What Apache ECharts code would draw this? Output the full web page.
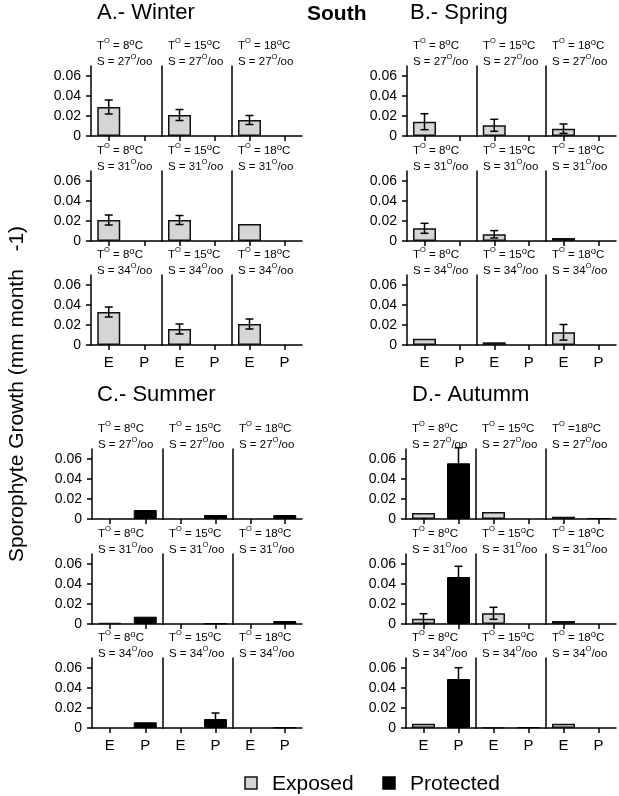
<!DOCTYPE html>
<html><head><meta charset="utf-8">
<script src="https://cdn.jsdelivr.net/npm/echarts@6/dist/echarts.min.js"></script>
<style>html,body{margin:0;padding:0;background:#fff}#c{width:619px;height:796px}</style>
</head><body><div id="c"></div>
<script>
// ---------- data ----------
const categories = ['E', 'P'];
const temperatures = ['8', '15', '18'];
const salinities = ['27', '31', '34'];
const panelTitles = ['A.- Winter', 'B.- Spring', 'C.- Summer', 'D.- Autumm'];
const yTicks = [0, 0.02, 0.04, 0.06];
const legendNames = ['Exposed', 'Protected'];

// rows = salinity (27, 31, 34), columns = temperature (8, 15, 18)
const winterExposed      = [[0.029, 0.021, 0.016], [0.021, 0.021, 0.017], [0.033, 0.016, 0.021]];
const winterExposedErr   = [[0.007, 0.0055, 0.0045], [0.005, 0.0045, 0], [0.005, 0.005, 0.005]];
const winterProtected    = [[0, 0, 0], [0, 0, 0], [0, 0, 0]];
const winterProtectedErr = [[0, 0, 0], [0, 0, 0], [0, 0, 0]];

const springExposed      = [[0.0143, 0.0107, 0.0073], [0.0127, 0.0067, 0.003], [0.0063, 0.0027, 0.0127]];
const springExposedErr   = [[0.008, 0.006, 0.0047], [0.005, 0.0037, 0], [0, 0, 0.0078]];
const springProtected    = [[0, 0, 0], [0, 0, 0], [0, 0, 0]];
const springProtectedErr = [[0, 0, 0], [0, 0, 0], [0, 0, 0]];

const summerExposed      = [[0, 0, 0], [0.001, 0, 0], [0, 0, 0]];
const summerExposedErr   = [[0, 0, 0], [0, 0, 0], [0, 0, 0]];
const summerProtected    = [[0.009, 0.004, 0.004], [0.0073, 0.0005, 0.003], [0.0057, 0.009, 0.0005]];
const summerProtectedErr = [[0, 0, 0], [0, 0, 0], [0, 0.006, 0]];

const autumnExposed      = [[0.006, 0.007, 0.0023], [0.0053, 0.0107, 0.003], [0.0043, 0.0007, 0.0043]];
const autumnExposedErr   = [[0, 0, 0], [0.005, 0.006, 0], [0, 0, 0]];
const autumnProtected    = [[0.0557, 0, 0.001], [0.047, 0, 0], [0.049, 0.0007, 0]];
const autumnProtectedErr = [[0.0155, 0, 0], [0.0107, 0, 0], [0.0113, 0, 0]];

const panelData = [
  [winterExposed, winterExposedErr, winterProtected, winterProtectedErr],
  [springExposed, springExposedErr, springProtected, springProtectedErr],
  [summerExposed, summerExposedErr, summerProtected, summerProtectedErr],
  [autumnExposed, autumnExposedErr, autumnProtected, autumnProtectedErr]
];

// ---------- layout ----------
const FONT = 'Liberation Sans, Arial, Helvetica, sans-serif';
const H = 70;
const layout = [
  { tx: 97,  ty: 13,  cols: [91, 162, 232, 302],  zeros: [136, 241, 345] },
  { tx: 410, ty: 13,  cols: [407, 477, 546, 616], zeros: [136, 241, 345] },
  { tx: 97,  ty: 395, cols: [92, 163, 233, 302],  zeros: [519, 624, 728] },
  { tx: 412, ty: 395, cols: [406, 476, 546, 616], zeros: [519, 624, 728] }
];
const EXP_COLOR = '#d5d5d5';
const expStyle = { color: EXP_COLOR, borderColor: '#111', borderWidth: 1.5 };
const proStyle = { color: '#000', borderColor: '#000', borderWidth: 1 };

const grids = [], xAxes = [], yAxes = [], series = [], graphics = [];

const richStyles = {
  n: { fontSize: 11.5, fontFamily: FONT, lineHeight: 18, fill: '#000', color: '#000' },
  s: { fontSize: 7.5, fontFamily: FONT, lineHeight: 8, verticalAlign: 'top', fill: '#000', color: '#000' },
  d: { fontSize: 9.5, fontFamily: FONT, lineHeight: 9, verticalAlign: 'top', fill: '#000', color: '#000' }
};

function addText(x, y, text, font, opts) {
  graphics.push(Object.assign({
    type: 'text', x: x, y: y, silent: true,
    style: Object.assign({ text: text, font: font, fill: '#000',
      align: 'left', verticalAlign: 'middle', textAlign: 'left', textVerticalAlign: 'middle' }, (opts && opts.style) || {})
  }, (opts && opts.el) || {}));
}
function barValue(v) { return v > 0 ? v : '-'; }

let g = 0;
for (let p = 0; p < 4; p++) {
  const L = layout[p];
  const [ex, exErr, pr, prErr] = panelData[p];
  addText(L.tx, L.ty, panelTitles[p], '22px ' + FONT);
  for (let r = 0; r < 3; r++) {
    for (let c = 0; c < 3; c++) {
      const left = L.cols[c], width = L.cols[c + 1] - L.cols[c];
      const top = L.zeros[r] - H;
      grids.push({ left: left, top: top, width: width, height: H, outerBoundsMode: 'none', containLabel: false });
      xAxes.push({
        gridIndex: g, type: 'category', data: categories, boundaryGap: true,
        axisLine: { show: true, lineStyle: { color: '#000', width: 1.5 } },
        axisTick: { show: true, alignWithLabel: true, length: 5, lineStyle: { color: '#000', width: 1.5 } },
        axisLabel: { show: r === 2, color: '#000', fontSize: 15, fontFamily: FONT, margin: 10 },
        splitLine: { show: false }
      });
      yAxes.push({
        gridIndex: g, type: 'value', min: 0, max: 0.07,
        axisLine: { show: true, lineStyle: { color: '#000', width: 1.5 } },
        axisTick: { show: c === 0, length: 5, lineStyle: { color: '#000', width: 1.5 }, customValues: yTicks },
        axisLabel: { show: c === 0, color: '#000', fontSize: 14, fontFamily: FONT, margin: 10, customValues: yTicks },
        splitLine: { show: false }
      });
      series.push({
        type: 'bar', xAxisIndex: g, yAxisIndex: g, barWidth: 23, silent: true, z: 2,
        data: [
          { value: barValue(ex[r][c]), itemStyle: expStyle },
          { value: barValue(pr[r][c]), itemStyle: proStyle }
        ]
      });
      const errData = [];
      if (exErr[r][c] > 0) errData.push([0, ex[r][c], exErr[r][c]]);
      if (prErr[r][c] > 0) errData.push([1, pr[r][c], prErr[r][c]]);
      if (errData.length) {
        series.push({
          type: 'custom', xAxisIndex: g, yAxisIndex: g, silent: true, z: 3, clip: false,
          data: errData,
          renderItem: function (params, api) {
            const i = api.value(0), v = api.value(1), e = api.value(2);
            const hi = api.coord([i, v + e]);
            const lo = api.coord([i, Math.max(0, v - e)]);
            const x = hi[0], hw = 4;
            const st = { stroke: '#000', lineWidth: 1.5 };
            return { type: 'group', children: [
              { type: 'line', shape: { x1: x, y1: hi[1], x2: x, y2: lo[1] }, style: st },
              { type: 'line', shape: { x1: x - hw, y1: hi[1], x2: x + hw, y2: hi[1] }, style: st },
              { type: 'line', shape: { x1: x - hw, y1: lo[1], x2: x + hw, y2: lo[1] }, style: st }
            ] };
          }
        });
      }
      // condition labels
      const tSep = (p === 3 && r === 0 && c === 2) ? ' =' : ' = ';
      graphics.push({ type: 'text', x: left + 6, y: top - 20, silent: true,
        style: { text: '{n|T}{s|O}{n|' + tSep + temperatures[c] + '}{d|o}{n|C}', rich: richStyles,
          align: 'left', verticalAlign: 'middle', textAlign: 'left', textVerticalAlign: 'middle' } });
      graphics.push({ type: 'text', x: left + 6, y: top - 4, silent: true,
        style: { text: '{n|S = ' + salinities[r] + '}{s|O}{n|/oo}', rich: richStyles,
          align: 'left', verticalAlign: 'middle', textAlign: 'left', textVerticalAlign: 'middle' } });
      g++;
    }
  }
}

addText(307, 14, 'South', 'bold 21px ' + FONT);
// y axis title
graphics.push({ type: 'text', x: 17, y: 394, rotation: Math.PI / 2, silent: true,
  style: { text: 'Sporophyte Growth (mm month   -1)', font: '21px ' + FONT, fill: '#000',
    align: 'center', verticalAlign: 'middle', textAlign: 'center', textVerticalAlign: 'middle' } });
// legend
graphics.push({ type: 'rect', shape: { x: 245, y: 777, width: 12, height: 12 }, silent: true,
  style: { fill: EXP_COLOR, stroke: '#111', lineWidth: 1.5 } });
addText(272, 784, legendNames[0], '21px ' + FONT);
graphics.push({ type: 'rect', shape: { x: 383, y: 777, width: 12, height: 12 }, silent: true,
  style: { fill: '#000', stroke: '#000', lineWidth: 1.5 } });
addText(410, 784, legendNames[1], '21px ' + FONT);

const chart = echarts.init(document.getElementById('c'), null, { renderer: 'canvas', width: 619, height: 796 });
chart.setOption({
  animation: false,
  backgroundColor: '#fff',
  textStyle: { fontFamily: FONT, color: '#000' },
  grid: grids, xAxis: xAxes, yAxis: yAxes, series: series, graphic: graphics
});
</script></body></html>
